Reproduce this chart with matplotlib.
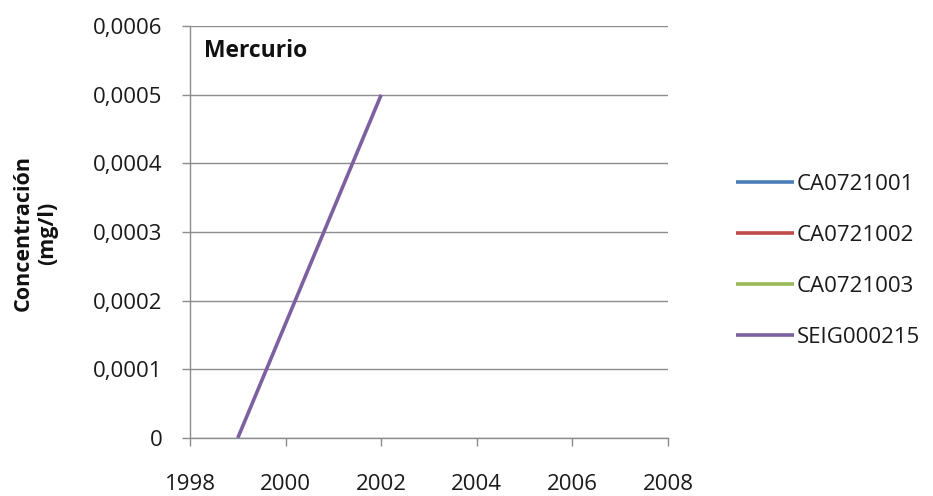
import matplotlib.pyplot as plt
from matplotlib.ticker import FuncFormatter

# Data
series_names = ['CA0721001', 'CA0721002', 'CA0721003', 'SEIG000215']
series_colors = ['#4A7EBB', '#BE4B48', '#98B954', '#7D60A0']
years_ca1, values_ca1 = [], []
years_ca2, values_ca2 = [], []
years_ca3, values_ca3 = [], []
years_seig = [1999, 2002]
values_seig = [0.0, 0.0005]

plt.rcParams['font.family'] = ['Open Sans', 'DejaVu Sans']

fig = plt.figure(figsize=(9.33, 4.96), dpi=100)
ax = fig.add_axes([0.2036, 0.117, 0.5125, 0.8305])

all_x = [years_ca1, years_ca2, years_ca3, years_seig]
all_y = [values_ca1, values_ca2, values_ca3, values_seig]
for xs, ys, name, col in zip(all_x, all_y, series_names, series_colors):
    ax.plot(xs, ys, color=col, lw=2.6, label=name, solid_capstyle='butt')

ax.set_xlim(1998, 2008)
ax.set_ylim(0, 0.0006)
ax.set_xticks(range(1998, 2009, 2))
ax.set_yticks([i * 0.0001 for i in range(7)])
ax.yaxis.set_major_formatter(FuncFormatter(
    lambda v, p: '0' if abs(v) < 1e-12 else ('%.4f' % v).replace('.', ',')))

ax.grid(axis='y', color='#8c8c8c', lw=1)
ax.set_axisbelow(True)
for s in ['top', 'right']:
    ax.spines[s].set_visible(False)
for s in ['left', 'bottom']:
    ax.spines[s].set_color('#8c8c8c')
    ax.spines[s].set_linewidth(1)
ax.tick_params(axis='both', colors='#8c8c8c', length=6, width=1, labelsize=16,
               labelcolor='#1a1a1a')
ax.tick_params(axis='y', pad=14)
ax.tick_params(axis='x', pad=20)

ax.text(0.03, 0.94, 'Mercurio', transform=ax.transAxes, fontsize=16.5,
        fontweight='bold', va='center', ha='left', color='#111111')

fig.text(0.038, 0.53, 'Concentración\n(mg/l)', rotation=90, fontsize=15.5,
         fontweight='bold', ha='center', va='center', multialignment='center',
         color='#111111', linespacing=1.25)

leg = ax.legend(loc='center left', bbox_to_anchor=(1.1, 0.43), frameon=False,
                fontsize=16, handlelength=2.6, handletextpad=0.15,
                labelspacing=1.35)
for t in leg.get_texts():
    t.set_color('#1a1a1a')

fig.savefig('out.png', dpi=100)
